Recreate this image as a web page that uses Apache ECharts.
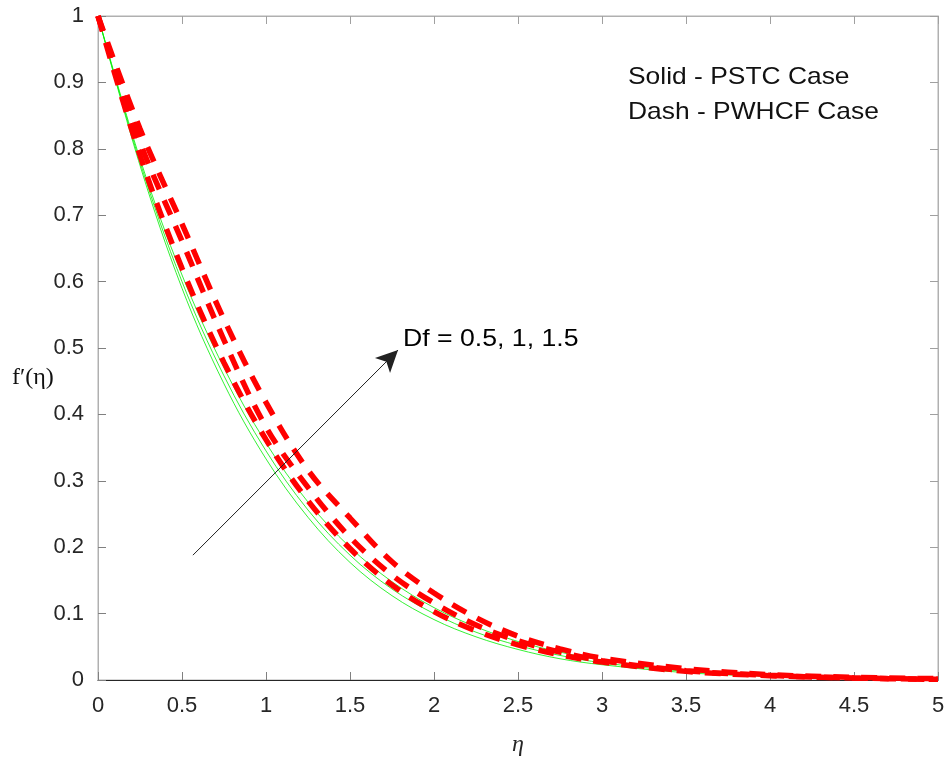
<!DOCTYPE html>
<html>
<head>
<meta charset="utf-8">
<script src="https://cdn.jsdelivr.net/npm/echarts@6/dist/echarts.min.js"></script>
<style>html,body{margin:0;padding:0;background:#fff}#c{width:946px;height:762px}</style>
</head>
<body>
<div id="c"></div>
<script>
// eta grid
const eta = [0, 0.25, 0.5, 0.75, 1, 1.25, 1.5, 1.75, 2, 2.25, 2.5, 2.75, 3, 3.5, 4, 4.5, 5];
// Solid - PSTC case (Df = 0.5, 1, 1.5)
const solidDf05 = [1, 0.775, 0.59, 0.446, 0.333, 0.245, 0.177, 0.127, 0.091, 0.065, 0.046, 0.032, 0.023, 0.011, 0.0055, 0.0025, 0.001];
const solidDf1  = [1, 0.78, 0.60, 0.458, 0.345, 0.256, 0.188, 0.137, 0.100, 0.072, 0.052, 0.037, 0.026, 0.013, 0.0065, 0.003, 0.001];
const solidDf15 = [1, 0.785, 0.61, 0.47, 0.357, 0.268, 0.200, 0.148, 0.109, 0.080, 0.058, 0.042, 0.030, 0.015, 0.0075, 0.0035, 0.0015];
// Dash - PWHCF case (Df = 0.5, 1, 1.5)
const dashDf05 = [1, 0.79, 0.62, 0.478, 0.362, 0.27, 0.198, 0.143, 0.103, 0.074, 0.053, 0.038, 0.027, 0.013, 0.0065, 0.003, 0.001];
const dashDf1  = [1, 0.81, 0.661, 0.512, 0.381, 0.29, 0.215, 0.158, 0.116, 0.083, 0.059, 0.042, 0.029, 0.014, 0.007, 0.003, 0.001];
const dashDf15 = [1, 0.83, 0.687, 0.543, 0.418, 0.316, 0.244, 0.178, 0.131, 0.094, 0.066, 0.047, 0.033, 0.017, 0.008, 0.004, 0.002];
// annotations
const arrowStart = [0.565, 0.188];
const arrowEnd = [1.786, 0.497];
const arrowText = 'Df = 0.5, 1, 1.5';
const noteLines = ['Solid - PSTC Case', 'Dash - PWHCF Case'];
const yName = 'f′(η)';
const xName = 'η';

const pts = arr => eta.map((e, i) => [e, arr[i]]);
const solidStyle = {color: '#00ee00', width: 0.8, type: 'solid'};
const dashStyle = {color: '#ff0000', width: 5.5, type: [16, 12], cap: 'butt'};
const mk = (name, arr, style) => ({
  name, type: 'line', data: pts(arr), smooth: 0.35, showSymbol: false, symbol: 'none',
  lineStyle: style, emphasis: {disabled: true}, silent: true, z: style.width > 1 ? 3 : 2
});

const chart = echarts.init(document.getElementById('c'), null, {renderer: 'canvas'});
const tickFont = {fontFamily: 'Liberation Sans, Arial, sans-serif', fontSize: 22, color: '#262626'};
const sans = '"Liberation Sans", Arial, sans-serif';
chart.setOption({
  animation: false,
  backgroundColor: '#fff',
  grid: {left: 98, right: 8, top: 16, bottom: 82, show: true, borderColor: '#b0b0b0', borderWidth: 1,
         containLabel: false, outerBoundsMode: 'none'},
  xAxis: [{
    type: 'value', min: 0, max: 5, interval: 0.5,
    axisLine: {show: true, onZero: false, lineStyle: {color: '#262626', width: 1.2}},
    axisTick: {show: true, inside: true, length: 8, lineStyle: {color: '#808080'}},
    axisLabel: Object.assign({margin: 15}, tickFont),
    splitLine: {show: false},
    name: xName, nameLocation: 'middle', nameGap: 53,
    nameTextStyle: {fontFamily: 'Liberation Serif, Times New Roman, serif', fontStyle: 'italic', fontSize: 24, color: '#262626'}
  }, {
    type: 'value', min: 0, max: 5, interval: 0.5, position: 'top',
    axisLine: {show: true, onZero: false, lineStyle: {color: '#b0b0b0'}},
    axisTick: {show: true, inside: true, length: 8, lineStyle: {color: '#a0a0a0'}},
    axisLabel: {show: false}, splitLine: {show: false}
  }],
  yAxis: [{
    type: 'value', min: 0, max: 1, interval: 0.1,
    axisLine: {show: true, onZero: false, lineStyle: {color: '#b0b0b0'}},
    axisTick: {show: true, inside: true, length: 8, lineStyle: {color: '#808080'}},
    axisLabel: Object.assign({margin: 14}, tickFont),
    splitLine: {show: false}
  }, {
    type: 'value', min: 0, max: 1, interval: 0.1, position: 'right',
    axisLine: {show: true, onZero: false, lineStyle: {color: '#b0b0b0'}},
    axisTick: {show: true, inside: true, length: 8, lineStyle: {color: '#a0a0a0'}},
    axisLabel: {show: false}, splitLine: {show: false}
  }],
  series: [
    mk('Solid Df=0.5', solidDf05, solidStyle),
    mk('Solid Df=1', solidDf1, solidStyle),
    mk('Solid Df=1.5', solidDf15, solidStyle),
    mk('Dash Df=0.5', dashDf05, dashStyle),
    mk('Dash Df=1', dashDf1, dashStyle),
    Object.assign(mk('Dash Df=1.5', dashDf15, dashStyle), {
      markLine: {
        silent: true, animation: false,
        symbol: ['none', 'arrow'], symbolSize: [16, 22],
        lineStyle: {color: '#222', width: 1, type: 'solid'},
        label: {show: false},
        data: [[{coord: arrowStart}, {coord: arrowEnd}]]
      }
    })
  ],
  graphic: [
    {type: 'text', left: 12, top: 366, style: {text: yName, font: '24px "Liberation Serif", "Times New Roman", serif', fill: '#111'}},
    {type: 'text', x: 403, y: 327, scaleX: 1.11, style: {text: arrowText, font: '24px ' + sans, fill: '#000'}},
    {type: 'text', x: 628, y: 65, scaleX: 1.1, style: {text: noteLines[0], font: '24px ' + sans, fill: '#111'}},
    {type: 'text', x: 628, y: 100, scaleX: 1.1, style: {text: noteLines[1], font: '24px ' + sans, fill: '#111'}}
  ]
});
</script>
</body>
</html>
